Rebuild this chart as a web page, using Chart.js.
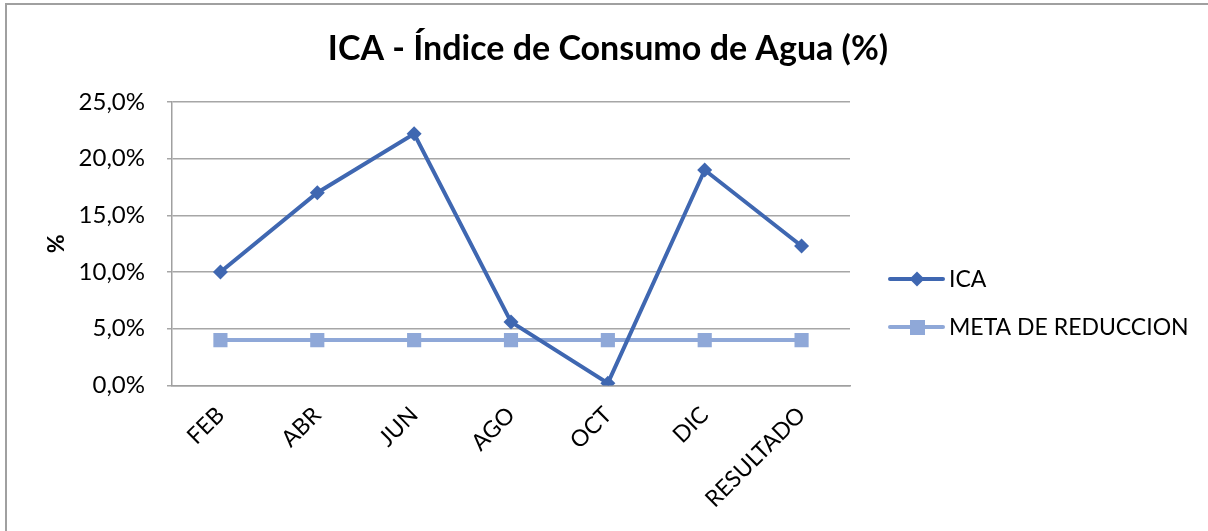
<!DOCTYPE html>
<html>
<head>
<meta charset="utf-8">
<script src="https://cdn.jsdelivr.net/npm/chart.js@4.4.1/dist/chart.umd.min.js"></script>
<style>
    html, body { margin: 0; padding: 0; background: #fff; }
    #wrap { position: relative; width: 1208px; height: 531px; overflow: hidden; }
    #frame { position: absolute; left: 5px; top: 3px; width: 1220px; height: 560px; border: 2px solid #a0a0a0; box-sizing: border-box; }
    canvas { position: absolute; left: 0; top: 0; }
</style>
</head>
<body>
<div id="wrap">
    <div id="frame"></div>
    <canvas id="icaChart" width="1208" height="531"></canvas>
</div>
<script>
const meses = ["FEB", "ABR", "JUN", "AGO", "OCT", "DIC", "RESULTADO"];
const icaValores = [10.0, 17.0, 22.2, 5.6, 0.2, 19.0, 12.3];
const metaValores = [4.0, 4.0, 4.0, 4.0, 4.0, 4.0, 4.0];
const titulo = "ICA - Índice de Consumo de Agua (%)";

const colorIca = "#3f67b1";
const colorMeta = "#8fa8d8";
const fuente = "Lato, 'Open Sans', sans-serif";

// titulo centrado en todo el grafico y leyenda (linea con marcador) a la derecha
const decoradoPlugin = {
    id: "decorado",
    afterDraw(chart) {
        const g = chart.ctx;
        const area = chart.chartArea;
        g.save();
        g.fillStyle = "#000";
        g.font = "bold 34px " + fuente;
        g.textAlign = "center";
        g.textBaseline = "middle";
        g.fillText(titulo, chart.width / 2 + 4, 49);

        const x0 = area.right + 40;
        const filas = [area.top + 177, area.top + 225];
        chart.data.datasets.forEach((ds, i) => {
            const y = filas[i];
            g.strokeStyle = ds.borderColor;
            g.fillStyle = ds.borderColor;
            g.lineWidth = 4;
            g.lineCap = "round";
            g.beginPath();
            g.moveTo(x0, y);
            g.lineTo(x0 + 53, y);
            g.stroke();
            g.beginPath();
            if (i === 0) {
                g.moveTo(x0 + 27, y - 7.5); g.lineTo(x0 + 34.5, y); g.lineTo(x0 + 27, y + 7.5); g.lineTo(x0 + 19.5, y);
            } else {
                g.rect(x0 + 20, y - 7, 15, 15);
            }
            g.closePath();
            g.fill();
            g.fillStyle = "#000";
            g.font = "23px " + fuente;
            g.textAlign = "left";
            g.fillText(ds.label, x0 + 59, y + 1);
        });
        g.restore();
    }
};

const ctx = document.getElementById("icaChart").getContext("2d");

let icaChart = new Chart(ctx, {
    type: "line",
    data: {
        labels: meses,
        datasets: [
            {
                label: "ICA",
                data: icaValores,
                borderColor: colorIca,
                backgroundColor: colorIca,
                borderWidth: 4,
                pointStyle: "rectRot",
                pointRadius: 7.5,
                pointBorderWidth: 0,
                tension: 0
            },
            {
                label: "META DE REDUCCION",
                data: metaValores,
                borderColor: colorMeta,
                backgroundColor: colorMeta,
                borderWidth: 4,
                pointStyle: "rect",
                pointRadius: 10,
                pointBorderWidth: 0,
                tension: 0
            }
        ]
    },
    options: {
        responsive: false,
        animation: false,
        layout: { padding: { left: 43, right: 358, top: 102, bottom: 10 } },
        plugins: {
            title: { display: false },
            legend: { display: false },
            tooltip: { enabled: false }
        },
        scales: {
            x: {
                offset: true,
                grid: { display: false },
                border: { display: true, color: "#a0a0a0", width: 1.5 },
                ticks: {
                    color: "#000",
                    minRotation: 45,
                    maxRotation: 45,
                    padding: 8,
                    font: { family: fuente, size: 23 }
                }
            },
            y: {
                min: 0,
                max: 25,
                afterFit: function (scale) { scale.width = 129; },
                title: {
                    display: true,
                    text: "%",
                    color: "#000",
                    font: { family: fuente, size: 23, weight: "bold" },
                    padding: { top: 0, bottom: 0 }
                },
                grid: { color: "#a6a6a6", lineWidth: 1.5, tickLength: 5 },
                border: { display: true, color: "#a0a0a0", width: 1.5 },
                ticks: {
                    stepSize: 5,
                    color: "#000",
                    padding: 22,
                    font: { family: fuente, size: 24 },
                    callback: function (v) {
                        return v.toFixed(1).replace(".", ",") + "%";
                    }
                }
            }
        }
    },
    plugins: [decoradoPlugin]
});
</script>
</body>
</html>
